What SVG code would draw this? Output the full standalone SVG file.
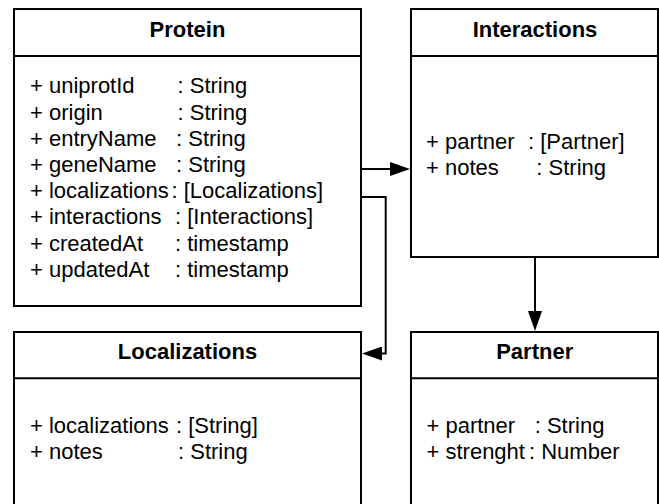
<svg xmlns="http://www.w3.org/2000/svg" width="659" height="504" viewBox="0 0 659 504">
  <style>
    .box { fill: #ffffff; stroke: #000000; stroke-width: 2; }
    .sep { stroke: #000000; stroke-width: 2; fill: none; }
    .title { font-family: "Liberation Sans", Arial, sans-serif; font-size: 22px; font-weight: bold; fill: #000000; text-anchor: middle; }
    .attr { font-family: "Liberation Sans", Arial, sans-serif; font-size: 22px; fill: #000000; }
    .conn { stroke: #000000; stroke-width: 2; fill: none; }
  </style>
  <defs>
    <marker id="arrow" markerUnits="userSpaceOnUse" markerWidth="20" markerHeight="14" refX="10" refY="7" orient="auto" viewBox="0 0 20 14">
      <path d="M0,0 L20,7 L0,14 Z" fill="#000000"/>
    </marker>
  </defs>
  <rect x="0" y="0" width="659" height="504" fill="#ffffff"/>

  <g id="protein">
    <rect class="box" x="14" y="9" width="347" height="297"/>
    <line class="sep" x1="14" y1="56" x2="361" y2="56"/>
    <text class="title" x="187.5" y="37.3">Protein</text>
    <text class="attr" y="93.3"><tspan x="30">+ uniprotId</tspan><tspan x="177.5">: String</tspan></text>
    <text class="attr" y="119.5"><tspan x="30">+ origin</tspan><tspan x="177.5">: String</tspan></text>
    <text class="attr" y="145.7"><tspan x="30">+ entryName</tspan><tspan x="176">: String</tspan></text>
    <text class="attr" y="171.9"><tspan x="30">+ geneName</tspan><tspan x="176">: String</tspan></text>
    <text class="attr" y="198.1"><tspan x="30">+ localizations</tspan><tspan x="171.5">: [Localizations]</tspan></text>
    <text class="attr" y="224.3"><tspan x="30">+ interactions</tspan><tspan x="175">: [Interactions]</tspan></text>
    <text class="attr" y="250.5"><tspan x="30">+ createdAt</tspan><tspan x="175">: timestamp</tspan></text>
    <text class="attr" y="276.7"><tspan x="30">+ updatedAt</tspan><tspan x="175">: timestamp</tspan></text>
  </g>

  <g id="interactions">
    <rect class="box" x="411" y="9" width="247" height="248"/>
    <line class="sep" x1="411" y1="56" x2="658" y2="56"/>
    <text class="title" x="535" y="36.7">Interactions</text>
    <text class="attr" y="148.5"><tspan x="426">+ partner</tspan><tspan x="528">: [Partner]</tspan></text>
    <text class="attr" y="174.7"><tspan x="426">+ notes</tspan><tspan x="536.3">: String</tspan></text>
  </g>

  <g id="localizations">
    <rect class="box" x="14" y="332" width="347" height="180"/>
    <line class="sep" x1="14" y1="378.3" x2="361" y2="378.3"/>
    <text class="title" x="187.5" y="359.3">Localizations</text>
    <text class="attr" y="433.3"><tspan x="30">+ localizations</tspan><tspan x="176">: [String]</tspan></text>
    <text class="attr" y="459.3"><tspan x="30">+ notes</tspan><tspan x="178">: String</tspan></text>
  </g>

  <g id="partner">
    <rect class="box" x="411" y="332" width="247" height="180"/>
    <line class="sep" x1="411" y1="378.3" x2="658" y2="378.3"/>
    <text class="title" x="534.7" y="359.3">Partner</text>
    <text class="attr" y="433.3"><tspan x="426.5">+ partner</tspan><tspan x="534.7">: String</tspan></text>
    <text class="attr" y="459.3"><tspan x="426.5">+ strenght</tspan><tspan x="529">: Number</tspan></text>
  </g>

  <g id="connectors">
    <path class="conn" d="M361,169 L400,169" marker-end="url(#arrow)"/>
    <path class="conn" d="M361,197 L385.7,197 L385.7,353.5 L372,353.5" marker-end="url(#arrow)"/>
    <path class="conn" d="M535,257 L535,321" marker-end="url(#arrow)"/>
  </g>
</svg>
